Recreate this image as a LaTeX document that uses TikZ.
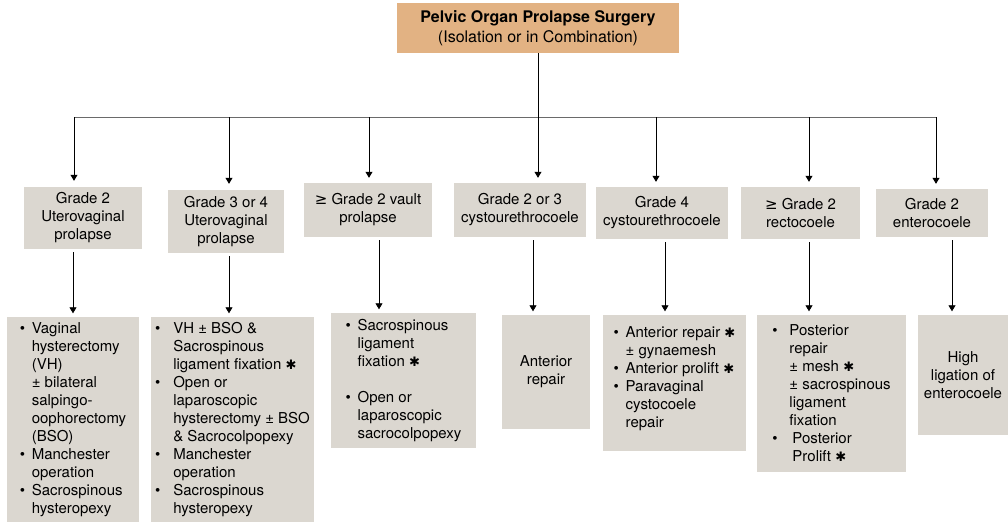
\documentclass[tikz,border=0pt]{standalone}
\usepackage{fontspec}
\setmainfont{TeX Gyre Heros}
\newfontfamily\symfont{DejaVu Sans}
\usetikzlibrary{arrows.meta}

\definecolor{boxgray}{HTML}{DBD7D0}
\definecolor{boxtan}{HTML}{E2B283}
\definecolor{busgray}{HTML}{6A6A6A}

% bullet and hanging indent for the list boxes
\newcommand{\itm}[1][12pt]{\makebox[#1][l]{\textbullet}}
\newcommand{\nxt}[1][12pt]{\hspace*{#1}}
\newcommand{\geqs}{{\symfont ≥}}
\newcommand{\mstar}{{\symfont\fontsize{13}{13}\selectfont ✱}}

\begin{document}
\begin{tikzpicture}[x=1pt, y=-1pt,
    box/.style={fill=boxgray, inner sep=0pt, align=center,
        font=\fontsize{15}{18}\selectfont},
    list/.style={box, align=left},
    arrow/.style={-{Triangle[length=6pt,width=7pt]}, line width=0.8pt},
    busline/.style={draw=busgray, line width=1pt}]
    \useasboundingbox (0,0) rectangle (1008,522);

    % root
    \node[box, fill=boxtan, minimum width=282pt, minimum height=50pt,
        font=\fontsize{16}{20}\selectfont] (top) at (538,28)
        {\textbf{Pelvic Organ Prolapse Surgery}\\(Isolation or in Combination)};

    % grades
    \node[box, minimum width=118pt, minimum height=62pt] (g1) at (83,218)
        {Grade 2\\Uterovaginal\\prolapse};
    \node[box, minimum width=116pt, minimum height=63pt] (g2) at (226,221.5)
        {Grade 3 or 4\\Uterovaginal\\prolapse};
    \node[box, minimum width=128pt, minimum height=54pt] (g3) at (368,210)
        {\geqs\ Grade 2 vault\\prolapse};
    \node[box, minimum width=132pt, minimum height=54pt] (g4) at (520,210)
        {Grade 2 or 3\\cystourethrocoele};
    \node[box, minimum width=132pt, minimum height=52pt] (g5) at (662,213)
        {Grade 4\\cystourethrocoele};
    \node[box, minimum width=119pt, minimum height=52pt] (g6) at (800.5,213)
        {\geqs\ Grade 2\\rectocoele};
    \node[box, minimum width=112pt, minimum height=48pt] (g7) at (932,213)
        {Grade 2\\enterocoele};

    % procedures
    \node[list, minimum width=132pt, minimum height=205pt] (b1) at (73,419.5)
        {\itm Vaginal\\
         \nxt hysterectomy\\
         \nxt (VH)\\
         \nxt ± bilateral\\
         \nxt salpingo-\\
         \nxt oophorectomy\\
         \nxt (BSO)\\
         \itm Manchester\\
         \nxt operation\\
         \itm Sacrospinous\\
         \nxt hysteropexy};
    \node[list, minimum width=163pt, minimum height=205pt] (b2) at (232.5,419.5)
        {\itm[14pt] VH ± BSO \&\\
         \nxt[14pt] Sacrospinous\\
         \nxt[14pt] ligament fixation \mstar\\
         \itm[14pt] Open or\\
         \nxt[14pt] laparoscopic\\
         \nxt[14pt] hysterectomy ± BSO\\
         \nxt[14pt] \& Sacrocolpopexy\\
         \itm[14pt] Manchester\\
         \nxt[14pt] operation\\
         \itm[14pt] Sacrospinous\\
         \nxt[14pt] hysteropexy};
    \node[list, minimum width=145pt, minimum height=135pt] (b3) at (403.5,380.5)
        {\itm Sacrospinous\\
         \nxt ligament\\
         \nxt fixation \mstar\\[18pt]
         \itm Open or\\
         \nxt laparoscopic\\
         \nxt sacrocolpopexy};
    \node[box, minimum width=88pt, minimum height=114pt] (b4) at (546,372)
        {Anterior\\repair};
    \node[list, minimum width=143pt, minimum height=136pt] (b5) at (674.5,383)
        {\itm Anterior repair \mstar\\
         \nxt ± gynaemesh\\
         \itm Anterior prolift \mstar\\
         \itm Paravaginal\\
         \nxt cystocoele\\
         \nxt repair\\[-6pt]};
    \node[list, minimum width=149pt, minimum height=157pt] (b6) at (831.5,393.5)
        {\itm[13pt] Posterior\\
         \nxt[13pt] repair\\
         \nxt[13pt] ± mesh \mstar\\
         \nxt[13pt] ± sacrospinous\\
         \nxt[13pt] ligament\\
         \nxt[13pt] fixation\\
         \itm[16pt] Posterior\\
         \nxt[16pt] Prolift \mstar};
    \node[box, minimum width=90pt, minimum height=120pt] (b7) at (963,375)
        {High\\ligation of\\enterocoele};

    % bus from the root
    \coordinate (bus west) at (74,117);
    \coordinate (bus east) at (936,117);
    \coordinate (a2) at (229,117);
    \coordinate (a3) at (369,117);
    \coordinate (a5) at (656,117);
    \coordinate (a6) at (809,117);
    \draw[busline] (bus west) -- (bus east);
    \draw[arrow, shorten >=5pt] (top.south) -- (top.south |- g4.north);
    \draw[arrow, shorten >=6pt] (bus west) -- (bus west |- g1.north);
    \draw[arrow, shorten >=6pt] (a2) -- (a2 |- g2.north);
    \draw[arrow, shorten >=5pt] (a3) -- (a3 |- g3.north);
    \draw[arrow, shorten >=5pt] (a5) -- (a5 |- g5.north);
    \draw[arrow, shorten >=5pt] (a6) -- (a6 |- g6.north);
    \draw[arrow, shorten >=5pt] (bus east) -- (bus east |- g7.north);

    % grade to procedure
    \coordinate (c1) at (73,280);
    \coordinate (c2) at (229,280);
    \coordinate (c3) at (379,280);
    \coordinate (c4) at (533,280);
    \coordinate (c5) at (665,280);
    \coordinate (c6) at (809,280);
    \coordinate (c7) at (952,280);
    \draw[arrow, shorten <=3pt, shorten >=3.5pt] (c1 |- g1.south) -- (c1 |- b1.north);
    \draw[arrow, shorten <=3pt, shorten >=3.5pt] (c2 |- g2.south) -- (c2 |- b2.north);
    \draw[arrow, shorten <=3pt, shorten >=3.5pt] (c3 |- g3.south) -- (c3 |- b3.north);
    \draw[arrow, shorten <=3pt, shorten >=3.5pt] (c4 |- g4.south) -- (c4 |- b4.north);
    \draw[arrow, shorten <=3pt, shorten >=3.5pt] (c5 |- g5.south) -- (c5 |- b5.north);
    \draw[arrow, shorten <=3pt, shorten >=3.5pt] (c6 |- g6.south) -- (c6 |- b6.north);
    \draw[arrow, shorten <=3pt, shorten >=3.5pt] (c7 |- g7.south) -- (c7 |- b7.north);
\end{tikzpicture}
\end{document}
